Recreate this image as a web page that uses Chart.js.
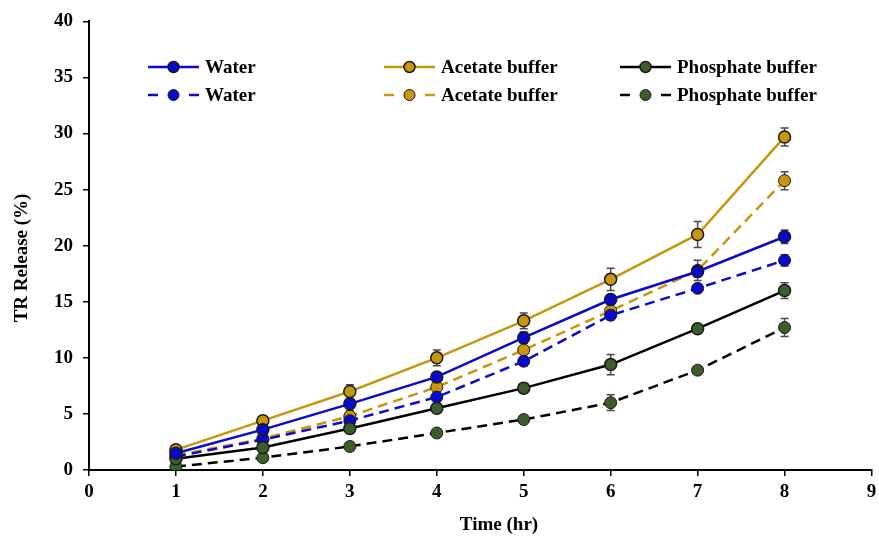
<!DOCTYPE html>
<html>
<head>
<meta charset="utf-8">
<script src="https://cdn.jsdelivr.net/npm/chart.js@4/dist/chart.umd.min.js"></script>
<style>
  html, body { margin: 0; padding: 0; background: #fff; }
  #wrap { width: 879px; height: 538px; }
</style>
</head>
<body>
<div id="wrap"><canvas id="graph" width="879" height="538"></canvas></div>
<script>
// time points (hr)
const hours = [1, 2, 3, 4, 5, 6, 7, 8];

// release values (%)
const waterA     = [1.5, 3.6, 5.9, 8.3, 11.8, 15.2, 17.7, 20.8];
const acetateA   = [1.8, 4.4, 7.0, 10.0, 13.3, 17.0, 21.0, 29.7];
const phosphateA = [1.0, 2.0, 3.7, 5.5, 7.3, 9.4, 12.6, 16.0];
const waterB     = [1.2, 2.7, 4.4, 6.5, 9.7, 13.8, 16.2, 18.7];
const acetateB   = [1.3, 2.8, 4.8, 7.4, 10.7, 14.2, 17.8, 25.8];
const phosphateB = [0.3, 1.1, 2.1, 3.3, 4.5, 6.0, 8.9, 12.7];

// error bars (+/-)
const waterAErr     = [0.2, 0.3, 0.4, 0.4, 0.5, 0.4, 0.5, 0.6];
const acetateAErr   = [0.2, 0.4, 0.6, 0.7, 0.7, 1.0, 1.15, 0.8];
const phosphateAErr = [0.2, 0.3, 0.3, 0.3, 0.4, 0.9, 0.3, 0.7];
const waterBErr     = [0.2, 0.3, 0.5, 0.4, 0.4, 0.4, 0.3, 0.5];
const acetateBErr   = [0.2, 0.4, 0.5, 0.6, 0.6, 0.6, 0.9, 0.8];
const phosphateBErr = [0.1, 0.2, 0.2, 0.2, 0.3, 0.7, 0.3, 0.8];

const xTicks = [0, 1, 2, 3, 4, 5, 6, 7, 8, 9];
const yTicks = [0, 5, 10, 15, 20, 25, 30, 35, 40];
const xTitle = "Time (hr)";
const yTitle = "TR Release (%)";

const FONT = "'Liberation Serif', 'Times New Roman', serif";

function pts(vals) {
  return hours.map((h, i) => ({ x: h, y: vals[i] }));
}

function series(label, vals, err, line, fill, dashed) {
  return {
    label: label,
    data: pts(vals),
    errors: err,
    borderColor: line,
    borderWidth: 2.5,
    borderDash: dashed ? [10, 6] : [],
    pointBackgroundColor: fill,
    pointBorderColor: "#1a1a1a",
    pointBorderWidth: dashed ? 1 : 1.5,
    pointRadius: 6,
    tension: 0,
    fill: false
  };
}

const datasets = [
  series("Water", waterA, waterAErr, "#0a0acc", "#0a0acc", false),
  series("Acetate buffer", acetateA, acetateAErr, "#c8960c", "#c8960c", false),
  series("Phosphate buffer", phosphateA, phosphateAErr, "#000000", "#3b5e2b", false),
  series("Water", waterB, waterBErr, "#0a0acc", "#0a0acc", true),
  series("Acetate buffer", acetateB, acetateBErr, "#c8960c", "#c8960c", true),
  series("Phosphate buffer", phosphateB, phosphateBErr, "#000000", "#3b5e2b", true)
];

// error bars behind the markers
const errorBars = {
  id: "errorBars",
  beforeDatasetsDraw(chart) {
    const ctx = chart.ctx;
    const ys = chart.scales.y;
    ctx.save();
    ctx.strokeStyle = "#4a4a4a";
    ctx.lineWidth = 1.5;
    chart.data.datasets.forEach((ds, di) => {
      const meta = chart.getDatasetMeta(di);
      meta.data.forEach((pt, i) => {
        const v = ds.data[i].y, e = ds.errors[i];
        const top = ys.getPixelForValue(v + e);
        const bot = ys.getPixelForValue(v - e);
        ctx.beginPath();
        ctx.moveTo(pt.x, top); ctx.lineTo(pt.x, bot);
        ctx.moveTo(pt.x - 4, top); ctx.lineTo(pt.x + 4, top);
        ctx.moveTo(pt.x - 4, bot); ctx.lineTo(pt.x + 4, bot);
        ctx.stroke();
      });
    });
    ctx.restore();
  }
};

// two-row legend inside the plot, plus the axis titles
const legendGrid = {
  id: "legendGrid",
  afterDraw(chart) {
    const ctx = chart.ctx;
    const cols = [148, 384, 620];
    const rows = [67, 95];
    ctx.save();
    ctx.font = "bold 19px " + FONT;
    ctx.textBaseline = "middle";
    chart.data.datasets.forEach((ds, i) => {
      const x = cols[i % 3], y = rows[Math.floor(i / 3)];
      ctx.strokeStyle = ds.borderColor;
      ctx.lineWidth = 2.5;
      ctx.beginPath();
      if (ds.borderDash.length) {
        ctx.moveTo(x, y); ctx.lineTo(x + 10, y);
        ctx.moveTo(x + 41, y); ctx.lineTo(x + 51, y);
      } else {
        ctx.moveTo(x, y); ctx.lineTo(x + 51, y);
      }
      ctx.stroke();
      ctx.beginPath();
      ctx.arc(x + 25.5, y, 5.5, 0, Math.PI * 2);
      ctx.fillStyle = ds.pointBackgroundColor;
      ctx.fill();
      ctx.lineWidth = ds.pointBorderWidth;
      ctx.strokeStyle = "#1a1a1a";
      ctx.stroke();
      ctx.fillStyle = "#000";
      ctx.fillText(ds.label, x + 57, y + 1);
    });

    // axis titles
    ctx.fillStyle = "#000";
    ctx.textAlign = "center";
    ctx.fillText(xTitle, 499, 525);
    ctx.translate(22, 258);
    ctx.rotate(-Math.PI / 2);
    ctx.fillText(yTitle, 0, 0);
    ctx.restore();
  }
};

new Chart(document.getElementById("graph"), {
  type: "line",
  data: { datasets: datasets },
  plugins: [errorBars, legendGrid],
  options: {
    responsive: false,
    animation: false,
    layout: { padding: { top: 20, right: 0, left: 0, bottom: 0 } },
    plugins: { legend: { display: false }, tooltip: { enabled: false } },
    scales: {
      x: {
        type: "linear",
        min: 0, max: 9,
        afterBuildTicks: (s) => { s.ticks = xTicks.map(v => ({ value: v })); },
        afterFit: (s) => { s.height = 68; s.paddingRight = 5; },
        grid: { display: true, drawOnChartArea: false, drawTicks: true, tickLength: 6, color: "#000", lineWidth: 1.5 },
        border: { color: "#000", width: 2 },
        ticks: { color: "#000", font: { family: FONT, size: 19, weight: "bold" }, padding: 5 },
        title: { display: false }
      },
      y: {
        min: 0, max: 40,
        afterBuildTicks: (s) => { s.ticks = yTicks.map(v => ({ value: v })); },
        afterFit: (s) => { s.width = 89; },
        grid: { display: true, drawOnChartArea: false, drawTicks: true, tickLength: 6, color: "#000", lineWidth: 1.5 },
        border: { color: "#000", width: 2 },
        ticks: { color: "#000", font: { family: FONT, size: 19, weight: "bold" }, padding: 10 },
        title: { display: false }
      }
    }
  }
});
</script>
</body>
</html>
